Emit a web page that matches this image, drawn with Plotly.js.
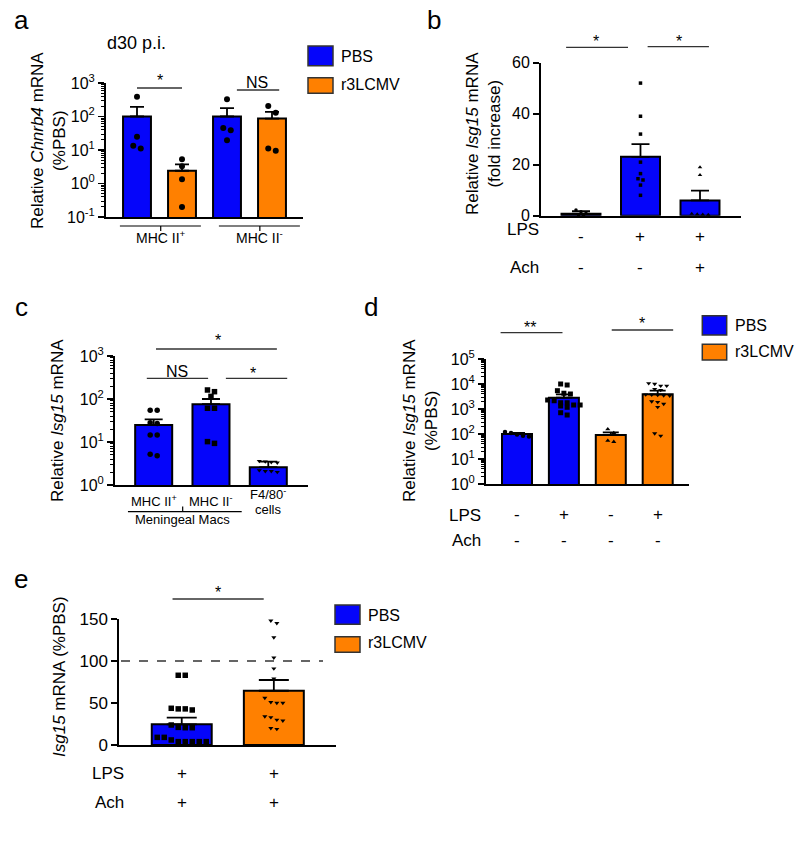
<!DOCTYPE html>
<html><head><meta charset="utf-8">
<script src="https://cdn.plot.ly/plotly-3.0.1.min.js"></script>
<style>html,body{margin:0;padding:0;background:#fff}#chart{width:800px;height:843px}</style>
</head><body><div id="chart"></div>
<script>
// ================= DATA =================
const seriesNames = ["PBS", "r3LCMV"];
const seriesColors = {"PBS": "#0505fa", "r3LCMV": "#ff8000"};

// Panel a : Chnrb4, d30 p.i.
const aCategories = ["MHC II+ PBS", "MHC II+ r3LCMV", "MHC II- PBS", "MHC II- r3LCMV"];
const aSeries = ["PBS", "r3LCMV", "PBS", "r3LCMV"];
const aMeans = [100, 2.4, 100, 87];
const aErrors = [95, 1.3, 78, 51];
const aPoints = [[390, 25, 13.5, 11], [5.3, 3.3, 1.34, 0.2], [325, 45, 39, 19.6], [205, 130, 11, 9.5]];
const aGroupLabels = ["MHC II<sup>+</sup>", "MHC II<sup>-</sup>"];
const aTickVals = [0.1, 1, 10, 100, 1000];
const aTickText = ["10<sup>-1</sup>", "10<sup>0</sup>", "10<sup>1</sup>", "10<sup>2</sup>", "10<sup>3</sup>"];

// Panel b : Isg15 fold increase
const bCategories = ["LPS- Ach-", "LPS+ Ach-", "LPS+ Ach+"];
const bSeries = ["PBS", "PBS", "PBS"];
const bLPS = ["-", "+", "+"];
const bAch = ["-", "-", "+"];
const bMeans = [0.8, 23.1, 6.0];
const bErrors = [1.0, 5.0, 3.8];
const bPoints = [[2.2, 1.5, 1.0, 0.3, 0.1], [52, 39, 32, 21, 16.5, 14.5, 14, 12, 8], [19, 16, 0.8, 0.6, 0.5, 0.4]];
const bTickVals = [0, 20, 40, 60];
const bTickText = ["0", "20", "40", "60"];

// Panel c : Isg15 by cell type
const cCategories = ["MHC II<sup>+</sup>", "MHC II<sup>-</sup>", "F4/80<sup>-</sup>"];
const cSeries = ["PBS", "PBS", "PBS"];
const cMeans = [24.8, 76, 2.6];
const cErrors = [8.9, 24, 0.9];
const cPoints = [[55, 55, 28, 27, 14.5, 14.5, 4.8, 5.2], [162, 148, 115, 61, 61, 10.2, 9.3], [3.6, 3.4, 3.3, 3.5, 2.1, 2.0, 2.2, 2.1]];
const cTickVals = [1, 10, 100, 1000];
const cTickText = ["10<sup>0</sup>", "10<sup>1</sup>", "10<sup>2</sup>", "10<sup>3</sup>"];

// Panel d : Isg15 %PBS, LPS
const dCategories = ["PBS LPS-", "PBS LPS+", "r3LCMV LPS-", "r3LCMV LPS+"];
const dSeries = ["PBS", "PBS", "r3LCMV", "r3LCMV"];
const dLPS = ["-", "+", "-", "+"];
const dAch = ["-", "-", "-", "-"];
const dMeans = [100, 2830, 91, 3860];
const dErrors = [10, 1030, 26, 1540];
const dPoints = [[120, 110, 95, 85, 80],
  [9120, 10000, 5400, 4270, 3980, 1780, 1445, 2140, 2290, 1445, 1780, 1320, 1170, 575, 710],
  [155, 110, 54, 49],
  [10700, 10000, 8500, 8500, 6300, 5750, 3800, 3700, 3600, 3500, 3400, 2000, 1900, 1600, 1200, 105, 85]];
const dTickVals = [1, 10, 100, 1000, 10000, 100000];
const dTickText = ["10<sup>0</sup>", "10<sup>1</sup>", "10<sup>2</sup>", "10<sup>3</sup>", "10<sup>4</sup>", "10<sup>5</sup>"];

// Panel e : Isg15 %PBS, LPS + Ach
const eCategories = ["PBS", "r3LCMV"];
const eSeries = ["PBS", "r3LCMV"];
const eLPS = ["+", "+"];
const eAch = ["+", "+"];
const eMeans = [24.6, 64.6];
const eErrors = [7.9, 12.8];
const ePoints = [[83, 83, 43.7, 41.7, 43, 43, 23.8, 20.6, 20.6, 21, 9.1, 9.1, 6, 4, 4, 4, 4, 4],
  [148, 145, 128, 104, 91, 79, 56, 51, 50, 50, 34, 33, 30, 29, 20, 19]];
const eRefLine = 100;
const eTickVals = [0, 50, 100, 150];
const eTickText = ["0", "50", "100", "150"];

// ================= LAYOUT HELPERS =================
const W = 800, H = 843;
const FONT = "Arial, 'Liberation Sans', Helvetica, sans-serif";
const px = v => v / W;
const py = v => 1 - v / H;

const panels = [
  {n: 1, xpx: [106, 303], ypx: [83, 217], ytype: 'log', yrange: [-1, 3], xrange: [-0.689, 3.689], bw: 0.62, cap: 7,
   series: aSeries, means: aMeans, errs: aErrors, points: aPoints,
   symbols: ['circle', 'circle', 'circle', 'circle'], msize: [6, 6, 6, 6],
   tickvals: aTickVals, ticktext: aTickText, tfs: 16},
  {n: 2, xpx: [541, 740.7], ypx: [62.7, 215.7], ytype: 'linear', yrange: [0, 60], xrange: [-0.672, 2.684], bw: 0.655, cap: 9,
   series: bSeries, means: bMeans, errs: bErrors, points: bPoints,
   symbols: ['circle', 'square', 'triangle-up'], msize: [3.5, 3.5, 4],
   tickvals: bTickVals, ticktext: bTickText, tfs: 16},
  {n: 3, xpx: [115, 308], ypx: [356, 485], ytype: 'log', yrange: [0, 3], xrange: [-0.675, 2.693], bw: 0.646, cap: 9,
   series: cSeries, means: cMeans, errs: cErrors, points: cPoints,
   symbols: ['circle', 'square', 'triangle-down'], msize: [5.5, 5.5, 4.5],
   tickvals: cTickVals, ticktext: cTickText, tfs: 16},
  {n: 4, xpx: [486, 689.3], ypx: [359, 484], ytype: 'log', yrange: [0, 5], xrange: [-0.661, 3.674], bw: 0.64, cap: 8,
   series: dSeries, means: dMeans, errs: dErrors, points: dPoints,
   symbols: ['circle', 'square', 'triangle-up', 'triangle-down'], msize: [4.5, 5, 4.5, 4.5],
   tickvals: dTickVals, ticktext: dTickText, tfs: 16},
  {n: 5, xpx: [119.3, 336], ypx: [619, 745], ytype: 'linear', yrange: [0, 150], xrange: [-0.678, 1.675], bw: 0.651, cap: 15,
   series: eSeries, means: eMeans, errs: eErrors, points: ePoints,
   symbols: ['square', 'triangle-down'], msize: [5.5, 4.5],
   tickvals: eTickVals, ticktext: eTickText, tfs: 17}
];

function swarmOffsets(vals, toPx, step, pxPerUnit) {
  const idx = vals.map((v, i) => i).sort((a, b) => vals[b] - vals[a]);
  const offs = new Array(vals.length).fill(0);
  let row = [], rowY = null;
  const flush = () => {
    const n = row.length;
    row.forEach((i, j) => { offs[i] = (j - (n - 1) / 2) * step / pxPerUnit; });
    row = [];
  };
  idx.forEach(i => {
    const y = toPx(vals[i]);
    if (rowY !== null && Math.abs(y - rowY) < step * 0.9) row.push(i);
    else { flush(); row = [i]; rowY = y; }
  });
  flush();
  return offs;
}

const traces = [];
const layout = {
  width: W, height: H, margin: {l: 0, r: 0, t: 0, b: 0},
  paper_bgcolor: '#fff', plot_bgcolor: 'rgba(0,0,0,0)',
  font: {family: FONT, color: '#000', size: 15},
  showlegend: false, shapes: [], annotations: []
};

panels.forEach(p => {
  const sfx = p.n === 1 ? '' : String(p.n);
  const xr = 'x' + sfx, yr = 'y' + sfx;
  const cats = p.means.map((m, i) => i);
  traces.push({
    type: 'bar', x: cats, y: p.means, width: p.bw, xaxis: xr, yaxis: yr,
    marker: {color: p.series.map(s => seriesColors[s]), line: {color: '#000', width: 2}},
    error_y: {type: 'data', symmetric: false, array: p.errs, arrayminus: p.errs.map(() => 0),
              color: '#000', thickness: 1.8, width: p.cap},
    hoverinfo: 'skip'
  });
  const hPx = p.ypx[1] - p.ypx[0];
  const wPx = p.xpx[1] - p.xpx[0];
  const pxPerUnit = wPx / (p.xrange[1] - p.xrange[0]);
  const toPx = v => {
    const t = p.ytype === 'log' ? Math.log10(v) : v;
    return (t - p.yrange[0]) / (p.yrange[1] - p.yrange[0]) * hPx;
  };
  p.points.forEach((vals, gi) => {
    const step = p.msize[gi] + 1.5;
    const offs = swarmOffsets(vals, toPx, step, pxPerUnit);
    traces.push({
      type: 'scatter', mode: 'markers', xaxis: xr, yaxis: yr,
      x: vals.map((v, i) => gi + offs[i]), y: vals,
      marker: {symbol: p.symbols[gi], size: p.msize[gi], color: '#000', line: {width: 0}},
      cliponaxis: false, hoverinfo: 'skip'
    });
  });
  const minorVals = [];
  if (p.ytype === 'log') {
    for (let d = p.yrange[0]; d < p.yrange[1]; d++)
      for (let k = 2; k <= 9; k++) minorVals.push(k * Math.pow(10, d));
  }
  layout['xaxis' + sfx] = {
    domain: [px(p.xpx[0]), px(p.xpx[1])], range: p.xrange, anchor: yr,
    showline: true, linewidth: 2, linecolor: '#000', showgrid: false, zeroline: false,
    showticklabels: false, ticks: '', fixedrange: true
  };
  const ya = {
    domain: [py(p.ypx[1]), py(p.ypx[0])], type: p.ytype, range: p.yrange, anchor: xr,
    showline: true, linewidth: 2, linecolor: '#000', showgrid: false, zeroline: false,
    ticks: 'outside', ticklen: 6, tickwidth: 1.6, tickcolor: '#000',
    tickmode: 'array', tickvals: p.tickvals, ticktext: p.ticktext,
    tickfont: {size: p.tfs, family: FONT, color: '#000'}, fixedrange: true
  };
  if (p.ytype === 'log') {
    ya.minor = {tickmode: 'array', tickvals: minorVals, ticks: 'outside', ticklen: 3.5, tickwidth: 1, tickcolor: '#000', showgrid: false};
  }
  layout['yaxis' + sfx] = ya;
});

// ---------- annotation / shape helpers ----------
function txt(text, x, y, o = {}) {
  layout.annotations.push({
    text: text, x: x, y: py(y), xref: o.xref || 'paper', yref: 'paper',
    showarrow: false, xanchor: o.xa || 'center', yanchor: 'middle',
    textangle: o.angle || 0,
    font: {family: FONT, size: o.size || 16, color: '#000'}
  });
}
function line(x0, x1, y0, y1, o = {}) {
  layout.shapes.push({type: 'line', xref: o.xref || 'paper', yref: 'paper',
    x0: x0, x1: x1, y0: py(y0), y1: py(y1),
    line: {color: o.color || '#333', width: o.width || 1.3, dash: o.dash || 'solid'}});
}
function legend(x0, x1, boxes, textX) {
  seriesNames.forEach((s, i) => {
    const b = boxes[i];
    layout.shapes.push({type: 'rect', xref: 'paper', yref: 'paper',
      x0: px(x0), x1: px(x1), y0: py(b[1]), y1: py(b[0]),
      fillcolor: seriesColors[s], line: {color: '#333', width: 1.5}});
    txt(s, px(textX), b[2], {xa: 'left', size: 16});
  });
}

// ---------- Panel a ----------
txt('a', px(21), 20, {size: 26});
txt('d30 p.i.', px(136), 43, {size: 18});
txt('Relative <i>Chnrb4</i> mRNA<br>(%PBS)', px(48), 141, {size: 17, angle: -90});
line(0, 1, 88, 88, {xref: 'x'});
txt('*', 0.5, 80, {xref: 'x', size: 16});
line(2.22, 3.16, 90, 90, {xref: 'x'});
txt('NS', 2.67, 82.5, {xref: 'x', size: 16});
line(-0.38, 1.42, 226, 226, {xref: 'x', color: '#000', width: 1.2});
line(0.527, 0.527, 226, 231, {xref: 'x', color: '#000', width: 1.2});
line(1.82, 3.62, 226, 226, {xref: 'x', color: '#000', width: 1.2});
line(2.73, 2.73, 226, 231, {xref: 'x', color: '#000', width: 1.2});
txt(aGroupLabels[0], 0.527, 237, {xref: 'x', size: 14});
txt(aGroupLabels[1], 2.73, 237, {xref: 'x', size: 14});
legend(308, 333, [[46, 65.7, 56.7], [77.7, 93.3, 84.7]], 339);

// ---------- Panel b ----------
txt('b', px(434), 20, {size: 26});
txt('Relative <i>Isg15</i> mRNA<br>(fold increase)', px(484), 134, {size: 17, angle: -90});
line(-0.25, 0.79, 47.3, 47.3, {xref: 'x2'});
txt('*', 0.26, 42, {xref: 'x2'});
line(1.12, 2.15, 46.7, 46.7, {xref: 'x2'});
txt('*', 1.64, 42, {xref: 'x2'});
txt('LPS', px(541), 229.5, {xa: 'right', size: 17});
txt('Ach', px(541), 267, {xa: 'right', size: 17});
bLPS.forEach((s, i) => txt(s, i, 237, {xref: 'x2', size: 17}));
bAch.forEach((s, i) => txt(s, i, 267, {xref: 'x2', size: 17}));

// ---------- Panel c ----------
txt('c', px(21), 307, {size: 26});
txt('Relative <i>Isg15</i> mRNA', px(58), 420, {size: 17, angle: -90});
line(-0.12, 0.95, 378.3, 378.3, {xref: 'x3'});
txt('NS', 0.40, 371, {xref: 'x3'});
line(1.26, 2.33, 378.3, 378.3, {xref: 'x3'});
txt('*', 1.74, 373.5, {xref: 'x3'});
line(0.04, 2.15, 349, 349, {xref: 'x3'});
txt('*', 1.13, 341, {xref: 'x3'});
txt(cCategories[0], 0, 501, {xref: 'x3', size: 13});
txt(cCategories[1], 1, 501, {xref: 'x3', size: 13});
txt(cCategories[2], 2, 494, {xref: 'x3', size: 13});
txt('cells', 2, 509.5, {xref: 'x3', size: 13});
line(-0.449, 1.536, 511.7, 511.7, {xref: 'x3', color: '#000', width: 1.2});
line(0.506, 0.506, 506.5, 511.7, {xref: 'x3', color: '#000', width: 1.2});
txt('Meningeal Macs', 0.506, 519.5, {xref: 'x3', size: 13});

// ---------- Panel d ----------
txt('d', px(371), 307, {size: 26});
txt('Relative <i>Isg15</i> mRNA<br>(%PBS)', px(420), 421, {size: 17, angle: -90});
line(-0.35, 0.97, 332.7, 332.7, {xref: 'x4'});
txt('**', 0.28, 327, {xref: 'x4'});
line(2.02, 3.33, 330, 330, {xref: 'x4'});
txt('*', 2.66, 323.5, {xref: 'x4'});
txt('LPS', px(483), 515, {xa: 'right', size: 17});
txt('Ach', px(483), 540, {xa: 'right', size: 17});
dLPS.forEach((s, i) => txt(s, i, 514, {xref: 'x4', size: 17}));
dAch.forEach((s, i) => txt(s, i, 540, {xref: 'x4', size: 17}));
legend(702.3, 726.7, [[315.7, 335, 325.5], [344.3, 360, 351]], 733);

// ---------- Panel e ----------
txt('e', px(21), 579, {size: 26});
txt('<i>Isg15</i> mRNA (%PBS)', px(59), 677, {size: 17, angle: -90});
line(-0.10, 0.89, 599, 599, {xref: 'x5'});
txt('*', 0.39, 592, {xref: 'x5'});
layout.shapes.push({type: 'line', xref: 'paper', yref: 'y5', x0: px(121), x1: px(323), y0: eRefLine, y1: eRefLine,
  line: {color: '#333', width: 1.5, dash: 'dash'}});
txt('LPS', px(126), 773, {xa: 'right', size: 17});
txt('Ach', px(126), 802, {xa: 'right', size: 17});
eLPS.forEach((s, i) => txt(s, i, 773, {xref: 'x5', size: 17}));
eAch.forEach((s, i) => txt(s, i, 802, {xref: 'x5', size: 17}));
legend(335, 360, [[605, 624.3, 615], [636.7, 652.3, 642.5]], 366);

Plotly.newPlot('chart', traces, layout, {staticPlot: true, displayModeBar: false});
</script>
</body></html>
